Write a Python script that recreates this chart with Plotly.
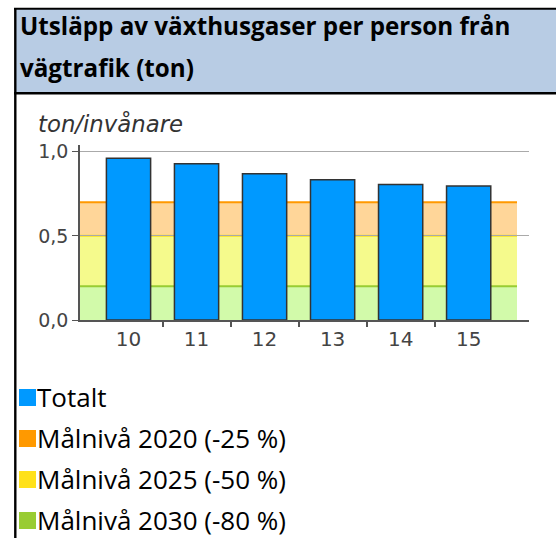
import plotly.graph_objects as go

# ---- data ----
years = ["10", "11", "12", "13", "14", "15"]
totalt = [0.962, 0.929, 0.869, 0.833, 0.805, 0.797]
series_name = "Totalt"
target_names = ["Målnivå 2020 (-25 %)", "Målnivå 2025 (-50 %)", "Målnivå 2030 (-80 %)"]
target_levels = [0.70, 0.50, 0.20]
ytick_vals = [0.0, 0.5, 1.0]
title_lines = ["Utsläpp av växthusgaser per person från", "vägtrafik (ton)"]
y_title = "ton/invånare"

# ---- styles ----
bar_color = "#0099ff"
band_fill = ["#ffd699", "#f5fa8c", "#d2faaa"]
band_line = ["#ff9900", "#ffe11a", "#99cc33"]
legend_colors = [bar_color] + band_line
header_bg = "#b8cce4"

W, H = 556, 538
L, R, T, B = 80, 27, 145, 218
PW, PH = W - L - R, H - T - B
xr = [-0.713, 5.887]


def px(x):
    return (x - L) / PW


def py(y):
    return (H - B - y) / PH


fig = go.Figure()
fig.add_trace(go.Bar(
    x=years, y=totalt, width=0.65, name=series_name,
    marker=dict(color=bar_color, line=dict(color="#333333", width=1.5)),
    showlegend=False,
))
fig.add_trace(go.Scatter(x=[0], y=[0], xaxis="x2", mode="markers",
                         marker=dict(opacity=0), showlegend=False, hoverinfo="skip"))

shapes = []
# target bands
for lvl, fc, lc in zip(target_levels, band_fill, band_line):
    shapes.append(dict(type="rect", xref="paper", yref="y", x0=0, x1=px(517), y0=0, y1=lvl,
                       fillcolor=fc, line=dict(width=0), layer="between"))
    shapes.append(dict(type="line", xref="paper", yref="y", x0=0, x1=px(517), y0=lvl, y1=lvl,
                       line=dict(color=lc, width=2), layer="between"))

# frame / header
shapes.append(dict(type="rect", xref="paper", yref="paper", x0=px(15), x1=px(560), y0=py(9), y1=py(93),
                   fillcolor=header_bg, line=dict(width=0), layer="below"))
shapes.append(dict(type="line", xref="paper", yref="paper", x0=px(14), x1=px(560), y0=py(8.7), y1=py(8.7),
                   line=dict(color="black", width=2)))
shapes.append(dict(type="line", xref="paper", yref="paper", x0=px(14), x1=px(560), y0=py(93.2), y1=py(93.2),
                   line=dict(color="black", width=2.4)))
shapes.append(dict(type="line", xref="paper", yref="paper", x0=px(15.3), x1=px(15.3), y0=py(8), y1=py(540),
                   line=dict(color="black", width=2.4)))

annotations = []
# header title
for i, line in enumerate(title_lines):
    annotations.append(dict(text="<b>" + line + "</b>", xref="paper", yref="paper",
                            x=px(18), y=py(33 + 42 * i - 8), xanchor="left", yanchor="middle",
                            showarrow=False, font=dict(family="Open Sans", size=24.2, color="black")))
# y title
annotations.append(dict(text=y_title, xref="paper", yref="paper", x=px(36), y=py(123),
                        xanchor="left", yanchor="middle", showarrow=False,
                        font=dict(family="DejaVu Sans", size=22.8, color="#333333", style="italic")))

# legend
legend_names = [series_name] + target_names
for i, (nm, col) in enumerate(zip(legend_names, legend_colors)):
    top = 389 + 41 * i
    shapes.append(dict(type="rect", xref="paper", yref="paper", x0=px(19), x1=px(36),
                       y0=py(top), y1=py(top + 17), fillcolor=col, line=dict(width=0)))
    annotations.append(dict(text=nm, xref="paper", yref="paper", x=px(35), y=py(top + 8),
                            xanchor="left", yanchor="middle", showarrow=False,
                            font=dict(family="Open Sans", size=26, color="black")))

fig.update_layout(
    width=W, height=H, margin=dict(l=L, r=R, t=T, b=B),
    paper_bgcolor="white", plot_bgcolor="white",
    separators=", ",
    shapes=shapes, annotations=annotations,
    bargap=0.35,
    xaxis=dict(type="category", range=xr, showline=True, linecolor="#555555", linewidth=1.5,
               ticks="", showgrid=False, zeroline=False,
               tickfont=dict(family="DejaVu Sans", size=20, color="#444444")),
    xaxis2=dict(overlaying="x", anchor="y", range=xr, showline=False, showgrid=False, zeroline=False,
                tickvals=[i + 0.5 for i in range(len(years) - 1)], ticks="outside", ticklen=6,
                tickcolor="#555555", tickwidth=1.5, showticklabels=False, side="bottom"),
    yaxis=dict(range=[0, 1.04], tickvals=ytick_vals, tickformat=".1f", showline=True,
               linecolor="#555555", linewidth=1.5, ticks="outside", ticklen=6, tickcolor="#555555",
               showgrid=True, gridcolor="#aaaaaa", gridwidth=1, zeroline=False,
               tickfont=dict(family="DejaVu Sans", size=19, color="#444444")),
    showlegend=False,
)

fig.write_html("out.html", config={"displayModeBar": False},
               post_script="document.body.style.margin='0';document.body.style.overflow='hidden';")
